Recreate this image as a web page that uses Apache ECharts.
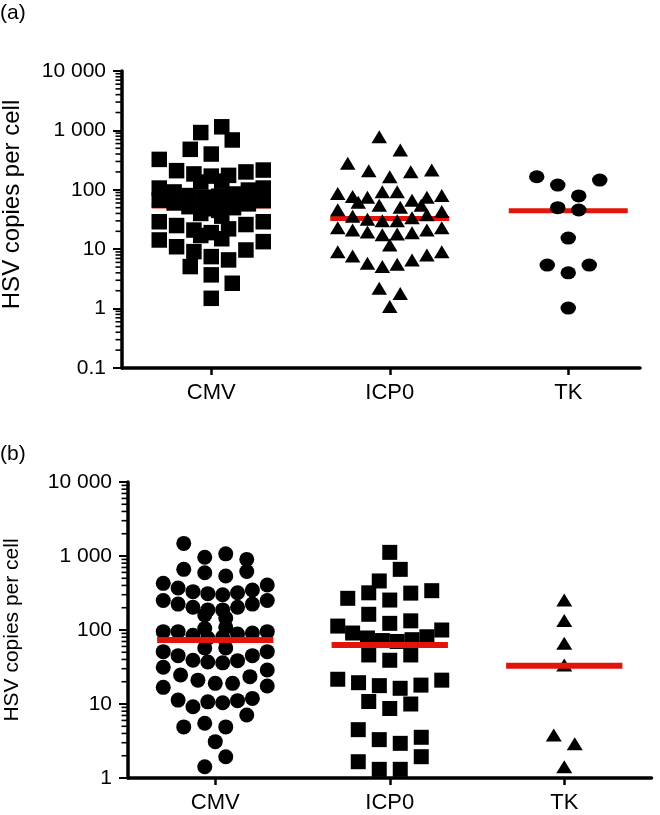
<!DOCTYPE html>
<html><head><meta charset="utf-8">
<script src="https://cdn.jsdelivr.net/npm/echarts@6/dist/echarts.min.js"></script>
<style>html,body{margin:0;padding:0;background:#fff}#c{width:660px;height:815px}</style>
</head><body><div id="c"></div>
<script>
// ---------- data ----------
const categories = ['CMV', 'ICP0', 'TK'];
const yTicksA = [0.1, 1, 10, 100, 1000, 10000];
const yTicksB = [1, 10, 100, 1000, 10000];

// Panel (a): HSV copies per cell, rows of a scatter dot plot (left -> right)
const aCMV = [
  [920, 1150], [480, 400, 690], [325, 210, 185, 170, 175, 200, 215], [135, 140],
  [107, 92, 80, 75, 78, 85, 99, 107], [67, 60, 52, 48, 45, 50, 58, 66], [40, 36],
  [29, 25, 21, 19, 22, 26, 29], [17, 15], [14.3, 11, 9.1, 7.5, 6.6, 9.7, 13.4],
  [5.1, 3.7, 2.67], [1.49]
];
const aICP0 = [
  [783, 468], [279, 210, 166, 202, 215], [87, 77, 75, 93, 93, 67, 75, 80], [62, 55, 51, 55],
  [46, 36, 32, 30, 30, 34, 38, 43], [23, 21, 19.5, 17.5, 18, 19, 21, 23], [11.8],
  [9.1, 7.7, 5.8, 5.1, 5.6, 6.6, 8.0, 9.1], [2.2, 1.8], [1.08]
];
const aTK = [[166, 120, 79, 146], [50, 45.7], [15.4], [5.4, 4.0, 5.4], [1.02]];
const aMeans = [53.4, 33, 44.5];

// Panel (b)
const bCMV = [
  [1480, 960, 1070, 900], [660, 595, 537, 617], [427, 370, 330, 310, 300, 318, 347, 405],
  [250, 224, 203, 187, 187, 203, 224, 250], [160, 145], [105, 109],
  [95, 95, 85, 78, 80, 88, 91, 95], [57, 57], [51, 45, 39, 37, 36, 38.5, 45, 51],
  [31.4, 24.6, 21, 19, 19, 23.4, 28.8], [16.8, 11.3, 9.2, 10.7, 10.4, 11.1, 11.9, 17.5],
  [4.9, 5.5, 4.9, 7.1], [3.1], [1.42, 1.94]
];
const bICP0 = [
  [1120], [460, 660], [268, 318, 254, 315, 340], [163, 123, 133],
  [113, 91, 78, 72, 70, 74, 81, 100], [46, 39, 46], [21.6, 19.4, 17.7, 16.3, 18, 21],
  [10.8, 8.7, 10], [4.5, 3.3, 2.94, 3.55], [1.66, 1.31, 1.31, 1.94]
];
const bTK = [[254], [134], [66], [33.7], [3.8, 2.9], [1.42]];
const bMeans = [73, 62.7, 33];

// ---------- layout ----------
const FONT = '"Liberation Sans", Arial, sans-serif';
const gridA = { left: 122, top: 71, width: 518, height: 297 };
const gridB = { left: 128, top: 482, width: 523.5, height: 296 };
const unitA = 178.5, unitB = 174.5; // px per category
const xMaxA = 0.5 + gridA.width / unitA;
const xMaxB = 0.5 + gridB.width / unitB;

function swarm(rows, catIdx, unit) {
  const pts = [];
  rows.forEach(row => {
    const n = row.length;
    const step = n > 1 ? Math.min(21, 104 / (n - 1)) : 0;
    row.forEach((v, i) => pts.push([catIdx + 1 + (i - (n - 1) / 2) * step / unit, v]));
  });
  return pts;
}
function minorVals(lo, hi) {
  const out = [];
  for (let e = Math.round(Math.log10(lo)); e < Math.round(Math.log10(hi)); e++)
    for (let m = 2; m <= 9; m++) out.push([0.5, m * Math.pow(10, e)]);
  return out;
}
function fmtY(v) {
  if (v < 0.99) return String(Math.round(v * 10) / 10);
  const r = Math.round(v);
  return String(r).replace(/\B(?=(\d{3})+(?!\d))/g, ' ');
}
function xAxisDef(gi, max) {
  return {
    type: 'value', gridIndex: gi, min: 0.5, max: max,
    axisLine: { show: true, onZero: false, lineStyle: { color: '#000', width: 3.5 } },
    axisTick: { show: true, customValues: [1, 2, 3], length: 7, lineStyle: { color: '#000', width: 2.5 } },
    axisLabel: { show: true, customValues: [1, 2, 3], margin: 14, color: '#000', fontSize: 22, fontFamily: FONT,
      formatter: v => categories[Math.round(v) - 1] || '' },
    splitLine: { show: false }
  };
}
function yAxisDef(gi, ticks) {
  return {
    type: 'log', logBase: 10, gridIndex: gi, min: ticks[0], max: ticks[ticks.length - 1],
    axisLine: { show: true, lineStyle: { color: '#000', width: 3.5 } },
    axisTick: { show: true, length: 9, lineStyle: { color: '#000', width: 2 } },
    axisLabel: { margin: 16, color: '#000', fontSize: 21, fontFamily: FONT, formatter: fmtY },
    splitLine: { show: false }, minorTick: { show: false }
  };
}
function meanSeries(gi, means, width, z) {
  return {
    type: 'custom', xAxisIndex: gi, yAxisIndex: gi, clip: false, z: z,
    data: means.map((m, i) => [i + 1, m]),
    renderItem: (p, api) => {
      const x = api.value(0), v = api.value(1);
      const a = api.coord([x - 1 / 3, v]), b = api.coord([x + 1 / 3, v]);
      return { type: 'line', shape: { x1: a[0], y1: a[1], x2: b[0], y2: b[1] },
        style: { stroke: '#e2140c', lineWidth: width } };
    }
  };
}
function minorSeries(gi, ticks) {
  return {
    type: 'custom', xAxisIndex: gi, yAxisIndex: gi, clip: false, z: 5,
    data: minorVals(ticks[0], ticks[ticks.length - 1]),
    renderItem: (p, api) => {
      const c = api.coord([api.value(0), api.value(1)]);
      return { type: 'line', shape: { x1: c[0] - 6.5, y1: c[1], x2: c[0], y2: c[1] },
        style: { stroke: '#000', lineWidth: 1.6 } };
    }
  };
}
function dots(gi, data, symbol, size, z) {
  return { type: 'scatter', xAxisIndex: gi, yAxisIndex: gi, data: data, symbol: symbol,
    symbolSize: size, itemStyle: { color: '#000', opacity: 1 }, z: z, silent: true };
}

const chart = echarts.init(document.getElementById('c'), null, { renderer: 'canvas' });
chart.setOption({
  animation: false,
  backgroundColor: '#fff',
  grid: [
    Object.assign({ outerBoundsMode: 'none', containLabel: false }, gridA),
    Object.assign({ outerBoundsMode: 'none', containLabel: false }, gridB)
  ],
  xAxis: [xAxisDef(0, xMaxA), xAxisDef(1, xMaxB)],
  yAxis: [yAxisDef(0, yTicksA), yAxisDef(1, yTicksB)],
  graphic: [
    { type: 'text', left: 0, top: 3, style: { text: '(a)', font: '21px ' + FONT, fill: '#000' } },
    { type: 'text', left: 0, top: 444, style: { text: '(b)', font: '21px ' + FONT, fill: '#000' } },
    { type: 'text', x: 12, y: 204.5, rotation: Math.PI / 2,
      style: { text: 'HSV copies per cell', font: '24px ' + FONT, fill: '#000', align: 'center', verticalAlign: 'middle' } },
    { type: 'text', x: 12, y: 630, rotation: Math.PI / 2,
      style: { text: 'HSV copies per cell', font: '21px ' + FONT, fill: '#000', align: 'center', verticalAlign: 'middle' } }
  ],
  series: [
    minorSeries(0, yTicksA), minorSeries(1, yTicksB),
    meanSeries(0, aMeans, 5, 2),
    dots(0, swarm(aCMV, 0, unitA), 'rect', 15.5, 3),
    dots(0, swarm(aICP0, 1, unitA), 'triangle', [15.5, 13], 3),
    dots(0, swarm(aTK, 2, unitA), 'circle', [15.5, 13], 3),
    dots(1, swarm(bCMV, 0, unitB), 'circle', 15, 3),
    dots(1, swarm(bICP0, 1, unitB), 'rect', 15, 3),
    dots(1, swarm(bTK, 2, unitB), 'triangle', [16, 13], 3),
    meanSeries(1, bMeans, 6, 4)
  ]
});
</script>
</body></html>
